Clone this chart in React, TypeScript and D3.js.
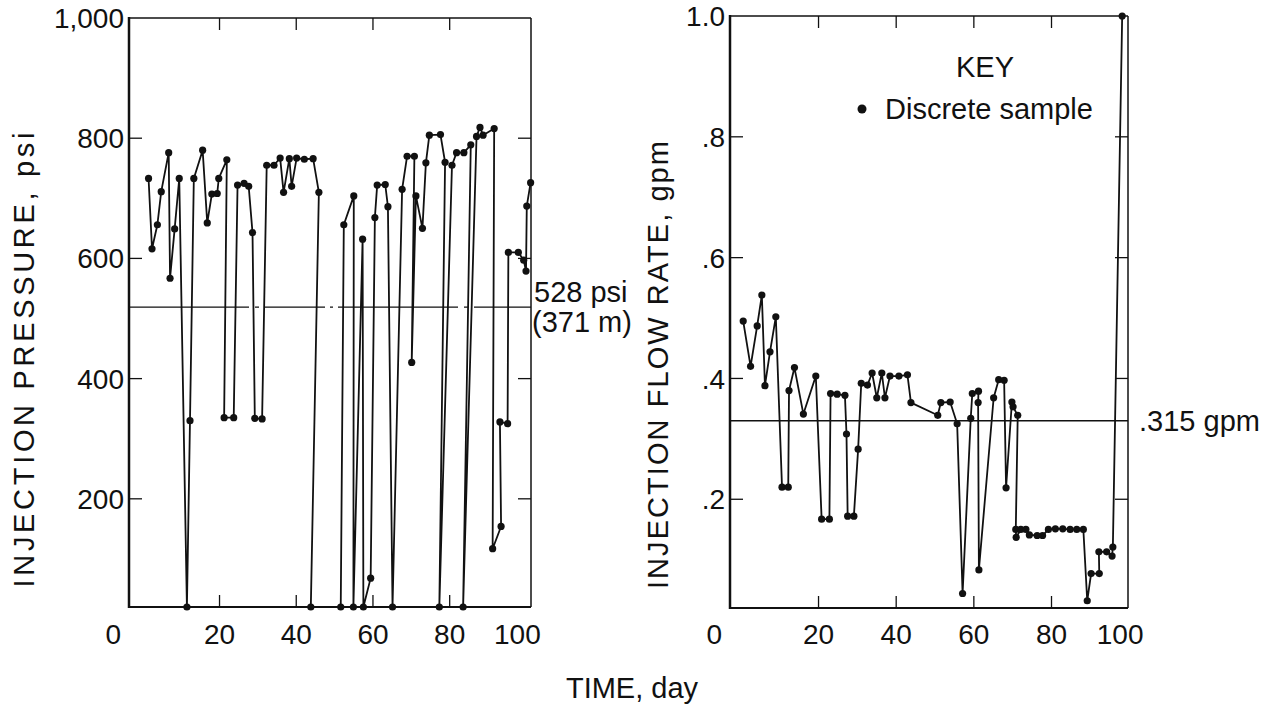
import React from "react";
import * as d3 from "d3";

const W = 1275;
const H = 708;
const FONT = "'Liberation Sans', Arial, Helvetica, sans-serif";
const FS = 29;

// Left panel: injection pressure (psi) by day
const pressureDays = [
  1.5, 2.4, 3.8, 4.8, 6.75, 7.1, 8.3, 9.5, 11.5, 12.3, 13.3, 15.6, 16.8, 18.0, 19.4, 19.8,
  21.9, 21.2, 23.7, 24.7, 26.4, 27.6, 28.6, 29.2, 31.1, 32.3, 34.2, 35.8, 36.7, 38.2, 38.8, 40.1,
  42.1, 44.4, 45.9, 43.8, 51.6, 52.4, 55.0, 54.9, 57.3, 57.5, 59.4, 60.5, 61.1, 63.2, 63.9, 65.1,
  67.6, 68.9, 70.8, 70.1, 71.2, 72.9, 73.8, 74.7, 77.6, 78.8, 77.3, 80.6, 81.8, 83.7, 85.5, 83.5,
  87.0, 87.9, 88.7, 91.6, 91.2, 93.4, 93.1, 95.1, 95.3, 97.9, 99.3, 99.9, 100.1, 101.1,
];
const pressureValues = [
  733, 616, 656, 711, 776, 567, 649, 733, 20, 330, 733, 780, 659, 707, 708, 733,
  764, 335, 335, 722, 725, 720, 643, 334, 333, 755, 755, 767, 710, 766, 720, 767,
  765, 766, 710, 20, 20, 656, 704, 20, 632, 20, 68, 668, 722, 723, 686, 20,
  715, 770, 770, 427, 704, 650, 759, 805, 806, 760, 20, 755, 776, 776, 789, 20,
  803, 818, 805, 816, 117, 154, 328, 325, 610, 610, 597, 579, 687, 726,
];

// Right panel: injection flow rate (gpm) by day
const flowDays = [
  0.6, 2.5, 4.2, 5.4, 6.2, 7.5, 9.0, 10.6, 12.2, 12.4, 13.8, 16.1, 19.3, 20.8, 22.8, 23.1,
  24.8, 26.8, 27.2, 27.5, 29.1, 30.2, 31.0, 32.6, 33.8, 35.0, 36.3, 37.1, 38.4, 40.7, 42.9, 43.8,
  50.7, 51.5, 53.9, 55.7, 57.1, 59.2, 59.6, 61.2, 61.1, 61.3, 65.1, 66.4, 67.8, 68.3, 69.8, 70.1,
  71.3, 70.8, 70.9, 72.1, 73.4, 74.3, 76.3, 77.7, 79.2, 81.0, 82.9, 84.8, 86.5, 88.2, 89.2, 90.2,
  92.3, 92.2, 94.2, 95.6, 95.8, 98.2,
];
const flowValues = [
  0.495, 0.42, 0.487, 0.538, 0.388, 0.444, 0.502, 0.22, 0.22, 0.38, 0.418, 0.341, 0.404, 0.167, 0.167, 0.375,
  0.374, 0.372, 0.308, 0.172, 0.172, 0.283, 0.392, 0.389, 0.409, 0.368, 0.409, 0.368, 0.404, 0.404, 0.406, 0.36,
  0.339, 0.36, 0.361, 0.325, 0.044, 0.334, 0.375, 0.379, 0.36, 0.083, 0.368, 0.398, 0.397, 0.219, 0.361, 0.353,
  0.339, 0.15, 0.137, 0.15, 0.15, 0.141, 0.14, 0.14, 0.15, 0.151, 0.151, 0.15, 0.15, 0.15, 0.032, 0.077,
  0.077, 0.113, 0.113, 0.106, 0.121, 1.0,
];

const dayTicks = [0, 20, 40, 60, 80, 100];
const pressureTicks = [200, 400, 600, 800, 1000];
const pressureTickLabels = ["200", "400", "600", "800", "1,000"];
const flowTicks = [0.2, 0.4, 0.6, 0.8, 1.0];
const flowTickLabels = [".2", ".4", ".6", ".8", "1.0"];
const pressureLimit = 519; // drawn line, labelled 528 psi
const flowLimit = 0.33; // drawn line, labelled .315 gpm

const xP = d3.scaleLinear().domain([-3.6, 101.2]).range([129, 531]);
const yP = d3.scaleLinear().domain([20, 1000]).range([607, 18]);
const xF = d3.scaleLinear().domain([-2.8, 99.7]).range([730, 1128]);
const yF = d3.scaleLinear().domain([0.02, 1]).range([608, 16]);

type Scale = d3.ScaleLinear<number, number>;

function Panel({ x, y, days, values, yTicks, yLabels, limit, dashed }: {
  x: Scale; y: Scale; days: number[]; values: number[];
  yTicks: number[]; yLabels: string[]; limit: number; dashed?: boolean;
}) {
  const [x0, x1] = x.range();
  const [yb, yt] = y.range();
  const pts: [number, number][] = days.map((d, i) => [x(d), y(values[i])]);
  const path = d3.line()(pts) || "";
  return (
    <g>
      {/* frame */}
      <line x1={x0} x2={x1} y1={yt} y2={yt} stroke="#111" strokeWidth={1.5} />
      <line x1={x1} x2={x1} y1={yt} y2={yb} stroke="#111" strokeWidth={1.5} />
      <line x1={x0} x2={x0} y1={yt - 1} y2={yb + 1} stroke="#111" strokeWidth={2.5} />
      <line x1={x0} x2={x1} y1={yb} y2={yb} stroke="#111" strokeWidth={2} />
      {/* x ticks top and bottom */}
      {dayTicks.filter((t) => t > 0 && t < 100).map((t) => (
        <g key={"xt" + t}>
          <line x1={x(t)} x2={x(t)} y1={yb} y2={yb - 12} stroke="#111" strokeWidth={1.3} />
          <line x1={x(t)} x2={x(t)} y1={yt} y2={yt + 12} stroke="#111" strokeWidth={1.3} />
        </g>
      ))}
      {dayTicks.map((t) => (
        <text key={"xl" + t}
          x={t === 0 ? x0 - 8 : t === 100 ? x(t) - 9 : x(t)}
          y={644}
          textAnchor={t === 0 ? "end" : "middle"}
          fontSize={FS - 1}
          fontFamily={FONT}
          fill="#111">{t}</text>
      ))}
      {/* y ticks left and right */}
      {yTicks.map((t, i) => (
        <g key={"yt" + t}>
          {i < yTicks.length - 1 && (
            <>
              <line x1={x0} x2={x0 + 13} y1={y(t)} y2={y(t)} stroke="#111" strokeWidth={1.3} />
              <line x1={x1} x2={x1 - 13} y1={y(t)} y2={y(t)} stroke="#111" strokeWidth={1.3} />
            </>
          )}
          <text x={x0 - 5} y={y(t)} dy="0.36em" textAnchor="end" fontSize={FS - 1}
            fontFamily={FONT} fill="#111">{yLabels[i]}</text>
        </g>
      ))}
      {/* threshold line */}
      <line x1={x0} x2={x1} y1={y(limit)} y2={y(limit)} stroke="#111" strokeWidth={1.3}
        strokeDasharray={dashed ? "120,6,4,6,60,5,3,5" : undefined} />
      {/* data */}
      <path d={path} fill="none" stroke="#111" strokeWidth={1.8} strokeLinejoin="round" />
      {pts.map((p, i) => (
        <circle key={i} cx={p[0]} cy={p[1]} r={3.6} fill="#111" />
      ))}
    </g>
  );
}

export default function App() {
  return (
    <svg width={W} height={H} style={{ position: "absolute", left: 0, top: 0, background: "#fff" }}>
      <rect width={W} height={H} fill="#fff" />
      <Panel x={xP} y={yP} days={pressureDays} values={pressureValues}
        yTicks={pressureTicks} yLabels={pressureTickLabels} limit={pressureLimit} dashed />
      <Panel x={xF} y={yF} days={flowDays} values={flowValues}
        yTicks={flowTicks} yLabels={flowTickLabels} limit={flowLimit} />

      {/* axis titles */}
      <text transform="translate(34,360) rotate(-90)" textAnchor="middle" fontSize={FS}
        textLength={455} lengthAdjust="spacing"
        fontFamily={FONT} fill="#111">INJECTION PRESSURE, psi</text>
      <text transform="translate(668,365) rotate(-90)" textAnchor="middle" fontSize={FS}
        textLength={448} lengthAdjust="spacing"
        fontFamily={FONT} fill="#111">INJECTION FLOW RATE, gpm</text>
      <text x={632} y={698} textAnchor="middle" fontSize={FS} fontFamily={FONT} fill="#111">TIME, day</text>

      {/* threshold labels */}
      <text x={534} y={302} fontSize={FS} fontFamily={FONT} fill="#111">528 psi</text>
      <text x={532} y={332} fontSize={FS} fontFamily={FONT} fill="#111">(371 m)</text>
      <text x={1139} y={431} fontSize={FS} fontFamily={FONT} fill="#111">.315 gpm</text>

      {/* key */}
      <text x={985} y={77} textAnchor="middle" fontSize={FS} fontFamily={FONT} fill="#111">KEY</text>
      <circle cx={862} cy={109} r={4.5} fill="#111" />
      <text x={885} y={119} fontSize={FS} fontFamily={FONT} fill="#111">Discrete sample</text>
    </svg>
  );
}
